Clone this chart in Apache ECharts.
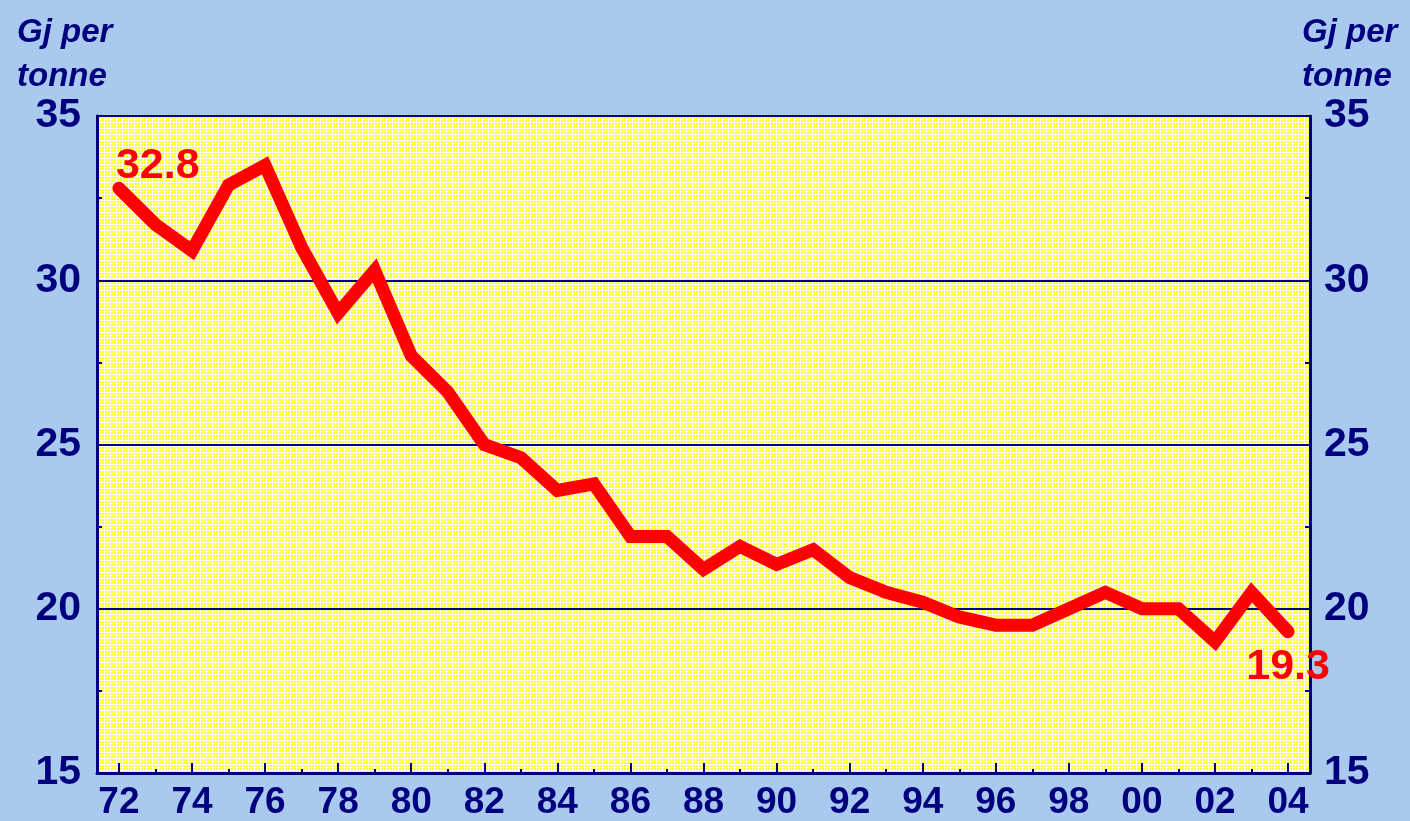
<!DOCTYPE html>
<html>
<head>
<meta charset="utf-8">
<script src="https://cdn.jsdelivr.net/npm/echarts@6/dist/echarts.min.js"></script>
<style>
html,body{margin:0;padding:0;background:#a9caee;}
#c{width:1410px;height:821px;}
</style>
</head>
<body>
<div id="c"></div>
<script>
// ---- data ----
var years = [1972,1973,1974,1975,1976,1977,1978,1979,1980,1981,1982,1983,1984,1985,1986,1987,1988,1989,1990,1991,1992,1993,1994,1995,1996,1997,1998,1999,2000,2001,2002,2003,2004];
var values = [32.8,31.7,30.9,32.9,33.5,31.0,29.0,30.3,27.7,26.6,25.0,24.6,23.6,23.8,22.2,22.2,21.2,21.9,21.35,21.8,20.95,20.5,20.2,19.75,19.5,19.5,20.0,20.5,20.0,20.0,19.0,20.5,19.3];
var majorYears = [1972,1974,1976,1978,1980,1982,1984,1986,1988,1990,1992,1994,1996,1998,2000,2002,2004];
var minorYears = [1973,1975,1977,1979,1981,1983,1985,1987,1989,1991,1993,1995,1997,1999,2001,2003];
var yTicks = [15,20,25,30,35];
var unitLabel = 'Gj per\ntonne';

var NAVY = '#00007f';
var FONT = '"Liberation Sans", Arial, sans-serif';

// dotted yellow pattern for plot area
var pc = document.createElement('canvas');
pc.width = 3; pc.height = 3;
var pctx = pc.getContext('2d');
pctx.fillStyle = '#ffffff';
pctx.fillRect(0,0,3,3);
pctx.fillStyle = '#ffff30';
pctx.fillRect(0,0,2,2);

var seriesData = years.map(function(y, i){
  var item = { value: [y, values[i]] };
  if (i === 0) {
    item.label = { show: true, position: 'top', align: 'left', distance: 2, offset: [-3, 2] };
  } else if (i === years.length - 1) {
    item.label = { show: true, position: 'bottom', align: 'center', distance: 6, offset: [0, 7] };
  }
  return item;
});

var chart = echarts.init(document.getElementById('c'), null, {renderer: 'canvas'});
chart.setOption({
  backgroundColor: '#a9caee',
  animation: false,
  title: [
    { text: unitLabel, left: 12, top: 6,
      textStyle: { fontFamily: FONT, fontStyle: 'italic', fontWeight: 'bold', fontSize: 33, lineHeight: 44, color: NAVY } },
    { text: unitLabel, left: 1297, top: 6,
      textStyle: { fontFamily: FONT, fontStyle: 'italic', fontWeight: 'bold', fontSize: 33, lineHeight: 44, color: NAVY } }
  ],
  grid: {
    left: 97, right: 100, top: 116, bottom: 47,
    show: true,
    backgroundColor: { image: pc, repeat: 'repeat' },
    borderColor: NAVY, borderWidth: 2
  },
  xAxis: [
    {
      type: 'value', min: 1971.4, max: 2004.6,
      axisLine: { show: true, lineStyle: { color: NAVY, width: 3 } },
      axisTick: { show: true, inside: true, length: 10, customValues: majorYears, lineStyle: { color: NAVY, width: 2 } },
      axisLabel: { show: true, customValues: majorYears, margin: 11,
        formatter: function(v){ return String(Math.round(v)).slice(2); },
        fontFamily: FONT, fontWeight: 'bold', fontSize: 37, color: NAVY },
      splitLine: { show: false }
    },
    {
      type: 'value', min: 1971.4, max: 2004.6, position: 'bottom',
      axisLine: { show: false },
      axisTick: { show: true, inside: true, length: 4, customValues: minorYears, lineStyle: { color: NAVY, width: 2 } },
      axisLabel: { show: false },
      splitLine: { show: false }
    }
  ],
  yAxis: [
    {
      type: 'value', min: 15, max: 35, interval: 5, position: 'left',
      axisLine: { show: true, lineStyle: { color: NAVY, width: 3 } },
      axisTick: { show: true, inside: true, length: 5, lineStyle: { color: NAVY, width: 2 } },
      minorTick: { show: true, splitNumber: 2, length: 5, lineStyle: { color: NAVY, width: 2 } },
      axisLabel: { margin: 16, padding: [11,0,0,0], fontFamily: FONT, fontWeight: 'bold', fontSize: 41, color: NAVY },
      splitLine: { show: true, lineStyle: { color: '#00008f', width: 2 } }
    },
    {
      type: 'value', min: 15, max: 35, interval: 5, position: 'right',
      axisLine: { show: true, lineStyle: { color: NAVY, width: 3 } },
      axisTick: { show: true, inside: true, length: 5, lineStyle: { color: NAVY, width: 2 } },
      minorTick: { show: true, splitNumber: 2, length: 5, lineStyle: { color: NAVY, width: 2 } },
      axisLabel: { margin: 14, padding: [11,0,0,0], fontFamily: FONT, fontWeight: 'bold', fontSize: 41, color: NAVY },
      splitLine: { show: false }
    }
  ],
  series: [{
    type: 'line',
    xAxisIndex: 0, yAxisIndex: 0,
    data: seriesData,
    symbol: 'circle',
    symbolSize: 2,
    showSymbol: true,
    itemStyle: { color: '#ff0000' },
    lineStyle: { color: '#ff0000', width: 13, join: 'miter', cap: 'round' },
    label: { show: false, color: '#ff0000', fontFamily: FONT, fontSize: 43, fontWeight: 'bold',
      formatter: function(p){ return p.value[1].toFixed(1); } },
    z: 3
  }]
});
</script>
</body>
</html>
